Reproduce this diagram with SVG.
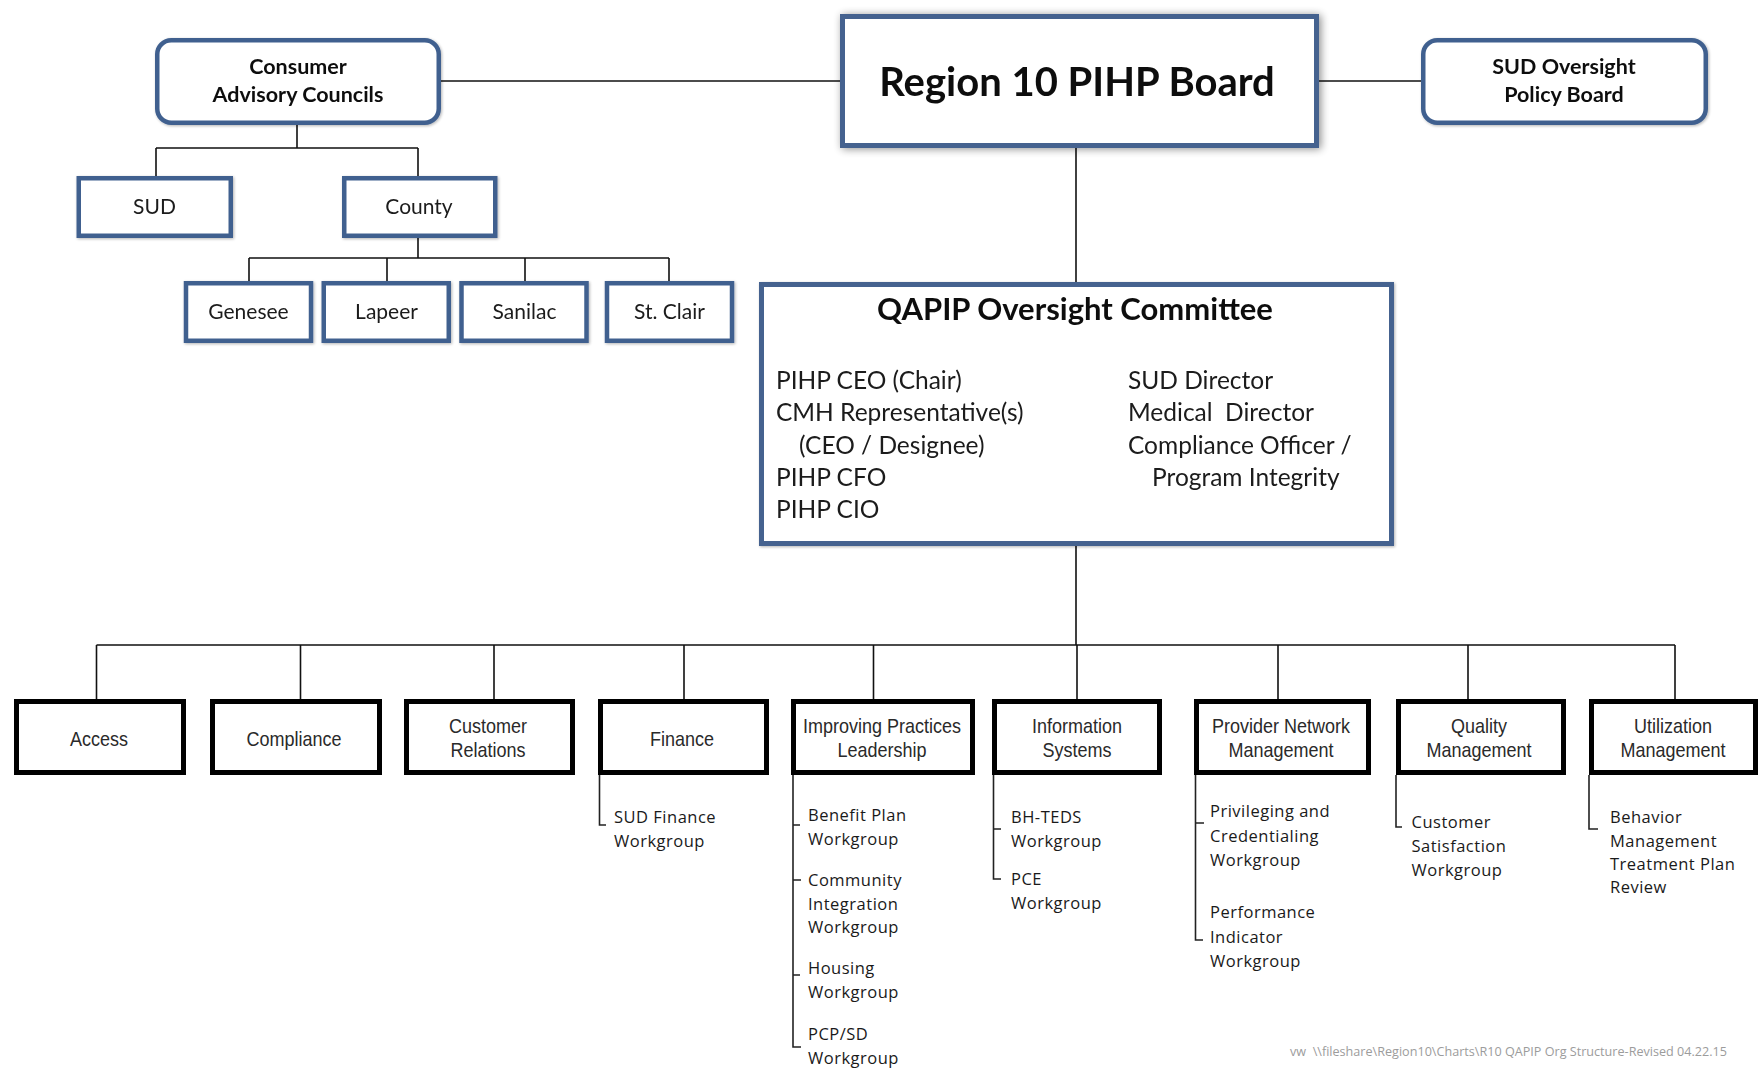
<svg xmlns="http://www.w3.org/2000/svg" width="1758" height="1069" viewBox="0 0 1758 1069">
  <defs>
    <filter id="shadowBig" x="-10%" y="-20%" width="120%" height="140%">
      <feGaussianBlur in="SourceAlpha" stdDeviation="4"/>
      <feOffset dx="2" dy="1" result="b"/>
      <feComponentTransfer><feFuncA type="linear" slope="0.45"/></feComponentTransfer>
      <feMerge><feMergeNode/><feMergeNode in="SourceGraphic"/></feMerge>
    </filter>
    <filter id="shadowSmall" x="-10%" y="-20%" width="120%" height="140%">
      <feGaussianBlur in="SourceAlpha" stdDeviation="1.6"/>
      <feOffset dx="1" dy="1" result="b"/>
      <feComponentTransfer><feFuncA type="linear" slope="0.3"/></feComponentTransfer>
      <feMerge><feMergeNode/><feMergeNode in="SourceGraphic"/></feMerge>
    </filter>
    <style>
      .blue { fill: #ffffff; stroke: #40608f; stroke-width: 4.5; }
      .blueThick { fill: #ffffff; stroke: #44628f; stroke-width: 5; }
      .black { fill: #ffffff; stroke: #000000; stroke-width: 5; }
      .conn { fill: none; stroke: #111111; stroke-width: 1.6; }
      .sub { fill: none; stroke: #222222; stroke-width: 1.6; }
      .hb { font-family: Lato, "Liberation Sans", sans-serif; font-weight: bold; fill: #111111; text-anchor: middle; }
      .hr { font-family: Lato, "Liberation Sans", sans-serif; fill: #1a1a1a; text-anchor: middle; font-size: 21px; }
      .mem { font-family: Lato, "Liberation Sans", sans-serif; fill: #1a1a1a; font-size: 24.5px; }
      .lbl { font-family: "Liberation Sans", Arial, sans-serif; fill: #2a2a2a; text-anchor: middle; font-size: 20px; }
      .wg { font-family: "Open Sans", "Noto Sans", sans-serif; fill: #1a1a1a; font-size: 16.5px; letter-spacing: 0.5px; }
      .foot { font-family: "Open Sans", "Noto Sans", sans-serif; fill: #9c9c9c; font-size: 12px; }
    </style>
  </defs>

  <!-- connectors -->
  <g id="connectors">
    <!-- top row -->
    <path class="conn" d="M441 81 H840"/>
    <path class="conn" d="M1319 81 H1421"/>
    <path class="conn" d="M1076 148 V282"/>
    <!-- advisory councils tree -->
    <path class="conn" d="M297 125 V148 M156 148 H418 M156 148 V176 M418 148 V176"/>
    <path class="conn" d="M418 238 V258 M249 258 H669 M249 258 V281 M387 258 V281 M525 258 V281 M669 258 V281"/>
    <!-- committee bus -->
    <path class="conn" d="M1076 546 V645 M96.5 645 H1675"/>
    <path class="conn" d="M96.5 645 V699 M300.5 645 V699 M494 645 V699 M684 645 V699 M873.5 645 V699 M1077 645 V699 M1278 645 V699 M1468 645 V699 M1675 645 V699"/>
    <!-- workgroup branches -->
    <path class="sub" d="M599.5 775 V825 H606"/>
    <path class="sub" d="M793 775 V1047 H801 M793 825 H800 M793 880 H801 M793 975 H800"/>
    <path class="sub" d="M993.5 775 V879 H1001 M993.5 829 H1001"/>
    <path class="sub" d="M1195.5 775 V940 H1203 M1195.5 823 H1204"/>
    <path class="sub" d="M1396 775 V827 H1402"/>
    <path class="sub" d="M1589 775 V829 H1598"/>
  </g>

  <!-- board level -->
  <g id="consumer-advisory-councils" filter="url(#shadowSmall)">
    <rect class="blue" x="157.25" y="40.25" width="281.5" height="82.5" rx="14"/>
    <text class="hb" font-size="21.5" x="298" y="74">Consumer</text>
    <text class="hb" font-size="21.5" x="298" y="101.5">Advisory Councils</text>
  </g>
  <g id="region10-board" filter="url(#shadowBig)">
    <rect class="blueThick" x="842.5" y="16.5" width="474" height="129"/>
    <text class="hb" font-size="40" x="1077" y="96">Region 10 PIHP Board</text>
  </g>
  <g id="sud-oversight-board" filter="url(#shadowSmall)">
    <rect class="blue" x="1423.25" y="40.25" width="282.5" height="82.5" rx="14"/>
    <text class="hb" font-size="21.5" x="1564" y="73.5">SUD Oversight</text>
    <text class="hb" font-size="21.5" x="1564" y="102">Policy Board</text>
  </g>

  <!-- advisory councils -->
  <g id="sud-council" filter="url(#shadowSmall)">
    <rect class="blue" x="78.75" y="178.25" width="152" height="57.5"/>
    <text class="hr" x="154.5" y="213.5">SUD</text>
  </g>
  <g id="county-council" filter="url(#shadowSmall)">
    <rect class="blue" x="344.25" y="178.25" width="151" height="57.5"/>
    <text class="hr" x="419" y="213.5">County</text>
  </g>
  <g id="genesee" filter="url(#shadowSmall)">
    <rect class="blue" x="186" y="283.25" width="125" height="57.5"/>
    <text class="hr" x="248.5" y="318.5">Genesee</text>
  </g>
  <g id="lapeer" filter="url(#shadowSmall)">
    <rect class="blue" x="323.75" y="283.25" width="125" height="57.5"/>
    <text class="hr" x="386.5" y="318.5">Lapeer</text>
  </g>
  <g id="sanilac" filter="url(#shadowSmall)">
    <rect class="blue" x="461.5" y="283.25" width="125" height="57.5"/>
    <text class="hr" x="524.5" y="318.5">Sanilac</text>
  </g>
  <g id="st-clair" filter="url(#shadowSmall)">
    <rect class="blue" x="607" y="283.25" width="125" height="57.5"/>
    <text class="hr" x="669.5" y="318.5">St. Clair</text>
  </g>

  <!-- oversight committee -->
  <g id="qapip-committee" filter="url(#shadowSmall)">
    <rect class="blueThick" x="761.5" y="284.5" width="630" height="259"/>
    <text class="hb" font-size="31" x="1075" y="320">QAPIP Oversight Committee</text>
    <text class="mem" x="776" y="389">PIHP CEO (Chair)</text>
    <text class="mem" x="776" y="421">CMH Representative(s)</text>
    <text class="mem" x="799" y="454">(CEO / Designee)</text>
    <text class="mem" x="776" y="486">PIHP CFO</text>
    <text class="mem" x="776" y="518">PIHP CIO</text>
    <text class="mem" x="1128" y="389">SUD Director</text>
    <text class="mem" x="1128" y="421" xml:space="preserve">Medical  Director</text>
    <text class="mem" x="1128" y="454">Compliance Officer /</text>
    <text class="mem" x="1152" y="486">Program Integrity</text>
  </g>

  <!-- committees (labels set in a condensed face) -->
  <g id="access">
    <rect class="black" x="16.5" y="701.5" width="167" height="71"/>
    <text class="lbl" transform="translate(99 0) scale(0.9 1)" x="0" y="746">Access</text>
  </g>
  <g id="compliance">
    <rect class="black" x="212.5" y="701.5" width="167" height="71"/>
    <text class="lbl" transform="translate(294 0) scale(0.9 1)" x="0" y="746">Compliance</text>
  </g>
  <g id="customer-relations">
    <rect class="black" x="406.5" y="701.5" width="166" height="71"/>
    <text class="lbl" transform="translate(488 0) scale(0.9 1)" x="0" y="733">Customer</text>
    <text class="lbl" transform="translate(488 0) scale(0.9 1)" x="0" y="757">Relations</text>
  </g>
  <g id="finance">
    <rect class="black" x="600.5" y="701.5" width="166" height="71"/>
    <text class="lbl" transform="translate(682 0) scale(0.9 1)" x="0" y="746">Finance</text>
    <text class="wg" x="614" y="822.5">SUD Finance</text>
    <text class="wg" x="614" y="846.5">Workgroup</text>
  </g>
  <g id="improving-practices">
    <rect class="black" x="793.5" y="701.5" width="179" height="71"/>
    <text class="lbl" transform="translate(882 0) scale(0.9 1)" x="0" y="733">Improving Practices</text>
    <text class="lbl" transform="translate(882 0) scale(0.9 1)" x="0" y="757">Leadership</text>
    <text class="wg" x="808" y="821">Benefit Plan</text>
    <text class="wg" x="808" y="845">Workgroup</text>
    <text class="wg" x="808" y="886">Community</text>
    <text class="wg" x="808" y="909.5">Integration</text>
    <text class="wg" x="808" y="933">Workgroup</text>
    <text class="wg" x="808" y="974">Housing</text>
    <text class="wg" x="808" y="998">Workgroup</text>
    <text class="wg" x="808" y="1040">PCP/SD</text>
    <text class="wg" x="808" y="1064">Workgroup</text>
  </g>
  <g id="information-systems">
    <rect class="black" x="994.5" y="701.5" width="165" height="71"/>
    <text class="lbl" transform="translate(1077 0) scale(0.9 1)" x="0" y="733">Information</text>
    <text class="lbl" transform="translate(1077 0) scale(0.9 1)" x="0" y="757">Systems</text>
    <text class="wg" x="1011" y="822.5">BH-TEDS</text>
    <text class="wg" x="1011" y="846.5">Workgroup</text>
    <text class="wg" x="1011" y="885">PCE</text>
    <text class="wg" x="1011" y="909">Workgroup</text>
  </g>
  <g id="provider-network">
    <rect class="black" x="1196.5" y="701.5" width="172" height="71"/>
    <text class="lbl" transform="translate(1281 0) scale(0.9 1)" x="0" y="733">Provider Network</text>
    <text class="lbl" transform="translate(1281 0) scale(0.9 1)" x="0" y="757">Management</text>
    <text class="wg" x="1210" y="816.5">Privileging and</text>
    <text class="wg" x="1210" y="841.5">Credentialing</text>
    <text class="wg" x="1210" y="866">Workgroup</text>
    <text class="wg" x="1210" y="918">Performance</text>
    <text class="wg" x="1210" y="942.5">Indicator</text>
    <text class="wg" x="1210" y="966.5">Workgroup</text>
  </g>
  <g id="quality-management">
    <rect class="black" x="1398.5" y="701.5" width="165" height="71"/>
    <text class="lbl" transform="translate(1479 0) scale(0.9 1)" x="0" y="733">Quality</text>
    <text class="lbl" transform="translate(1479 0) scale(0.9 1)" x="0" y="757">Management</text>
    <text class="wg" x="1411.5" y="828">Customer</text>
    <text class="wg" x="1411.5" y="852">Satisfaction</text>
    <text class="wg" x="1411.5" y="876">Workgroup</text>
  </g>
  <g id="utilization-management">
    <rect class="black" x="1591.5" y="701.5" width="164" height="71"/>
    <text class="lbl" transform="translate(1673 0) scale(0.9 1)" x="0" y="733">Utilization</text>
    <text class="lbl" transform="translate(1673 0) scale(0.9 1)" x="0" y="757">Management</text>
    <text class="wg" x="1610" y="822.5">Behavior</text>
    <text class="wg" x="1610" y="846.5">Management</text>
    <text class="wg" x="1610" y="870">Treatment Plan</text>
    <text class="wg" x="1610" y="892.5">Review</text>
  </g>

  <!-- file path footer -->
  <text class="foot" x="1290" y="1056" textLength="437" lengthAdjust="spacingAndGlyphs" xml:space="preserve">vw  \\fileshare\Region10\Charts\R10 QAPIP Org Structure-Revised 04.22.15</text>
</svg>
